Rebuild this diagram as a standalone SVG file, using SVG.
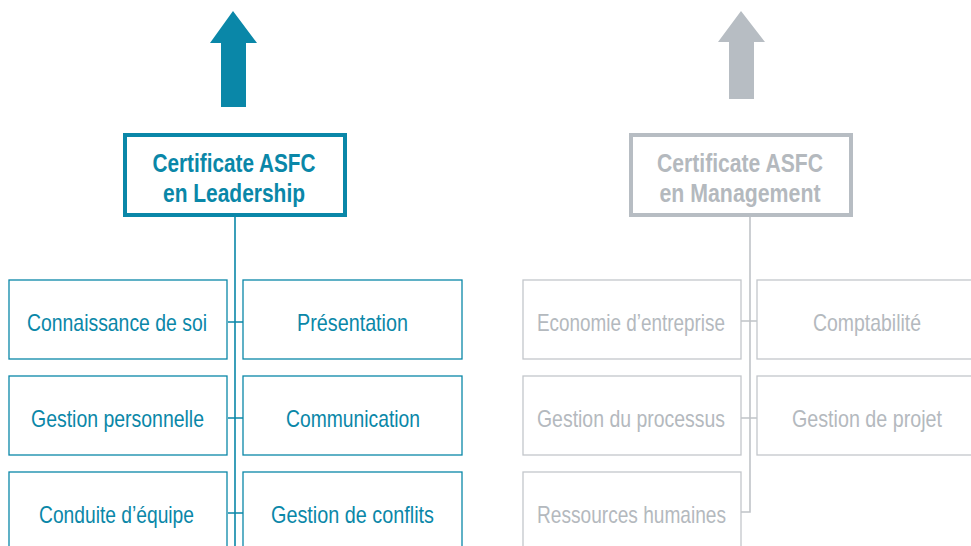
<svg xmlns="http://www.w3.org/2000/svg" width="971" height="546" viewBox="0 0 971 546">
<style>
.t{font-family:"Liberation Sans","Arial",sans-serif;font-size:24px;text-anchor:middle}
.h{font-family:"Liberation Sans","Arial",sans-serif;font-size:26px;font-weight:bold;text-anchor:middle}
.teal{fill:#0a87a8}
.grey{fill:#b4b9be}
.bt{fill:#fff;stroke:#0a87a8;stroke-width:1.3}
.bg{fill:#fff;stroke:#c3c7cb;stroke-width:1.3}
.lt{fill:none;stroke:#0a87a8;stroke-width:1.6}
.lg{fill:none;stroke:#c0c4c8;stroke-width:1.6}
</style>
<rect width="971" height="546" fill="#fff"/>
<g id="connectors">
<path class="lt" d="M235 217V546M228 322H243M228 418H243M228 513H243"/>
<path class="lg" d="M750 217V512H741M741 321H757M741 418H757"/>
</g>
<g id="arrow-leadership"><polygon fill="#0a87a8" points="233,11 257,43 246,43 246,107 221,107 221,43 210,43"/></g>
<g id="arrow-management"><polygon fill="#b7bdc3" points="741,11 765,42 754,42 754,99 729,99 729,42 718,42"/></g>
<g id="cert-leadership">
<rect x="125" y="135" width="220" height="80" fill="#fff" stroke="#0a87a8" stroke-width="4"/>
<text class="h teal" x="234" y="172" textLength="163" lengthAdjust="spacingAndGlyphs">Certificate ASFC</text>
<text class="h teal" x="234" y="202" textLength="142" lengthAdjust="spacingAndGlyphs">en Leadership</text>
</g>
<g id="cert-management">
<rect x="631" y="135" width="220" height="80" fill="#fff" stroke="#b7bdc3" stroke-width="4"/>
<text class="h grey" x="740" y="172" textLength="166" lengthAdjust="spacingAndGlyphs">Certificate ASFC</text>
<text class="h grey" x="740" y="202" textLength="161" lengthAdjust="spacingAndGlyphs">en Management</text>
</g>
<g id="connaissance"><rect class="bt" x="9" y="280" width="218" height="79"/><text class="t teal" x="117" y="331" textLength="180" lengthAdjust="spacingAndGlyphs">Connaissance de soi</text></g>
<g id="presentation"><rect class="bt" x="243" y="280" width="219" height="79"/><text class="t teal" x="352.5" y="331" textLength="111" lengthAdjust="spacingAndGlyphs">Présentation</text></g>
<g id="gestion-personnelle"><rect class="bt" x="9" y="376" width="218" height="79"/><text class="t teal" x="117.5" y="427" textLength="173" lengthAdjust="spacingAndGlyphs">Gestion personnelle</text></g>
<g id="communication"><rect class="bt" x="243" y="376" width="219" height="79"/><text class="t teal" x="353" y="427" textLength="134" lengthAdjust="spacingAndGlyphs">Communication</text></g>
<g id="conduite"><rect class="bt" x="9" y="472" width="218" height="90"/><text class="t teal" x="116.5" y="523" textLength="155" lengthAdjust="spacingAndGlyphs">Conduite d’équipe</text></g>
<g id="conflits"><rect class="bt" x="243" y="472" width="219" height="90"/><text class="t teal" x="352.5" y="523" textLength="163" lengthAdjust="spacingAndGlyphs">Gestion de conflits</text></g>
<g id="economie"><rect class="bg" x="523" y="280" width="218" height="79"/><text class="t grey" x="631" y="331" textLength="188" lengthAdjust="spacingAndGlyphs">Economie d’entreprise</text></g>
<g id="comptabilite"><rect class="bg" x="757" y="280" width="219" height="79"/><text class="t grey" x="867" y="331" textLength="108" lengthAdjust="spacingAndGlyphs">Comptabilité</text></g>
<g id="processus"><rect class="bg" x="523" y="376" width="218" height="79"/><text class="t grey" x="631" y="427" textLength="188" lengthAdjust="spacingAndGlyphs">Gestion du processus</text></g>
<g id="projet"><rect class="bg" x="757" y="376" width="219" height="79"/><text class="t grey" x="867" y="427" textLength="150" lengthAdjust="spacingAndGlyphs">Gestion de projet</text></g>
<g id="ressources"><rect class="bg" x="523" y="472" width="218" height="90"/><text class="t grey" x="631.5" y="523" textLength="189" lengthAdjust="spacingAndGlyphs">Ressources humaines</text></g>
</svg>
